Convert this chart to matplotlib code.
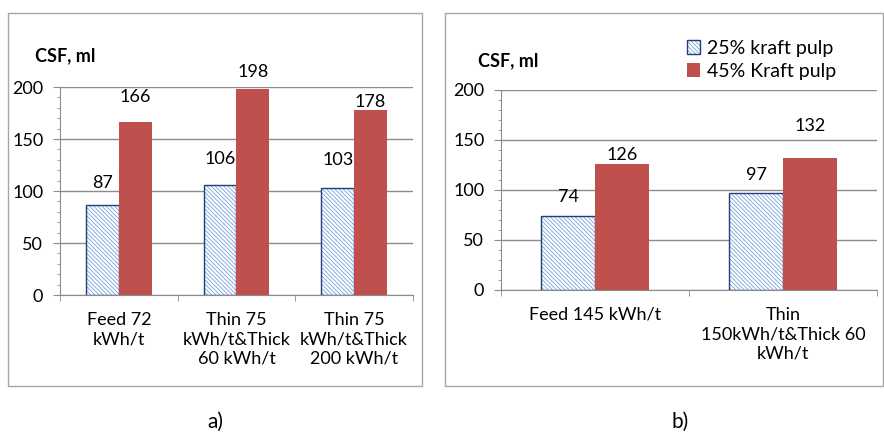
import matplotlib.pyplot as plt
import numpy as np
from matplotlib.patches import Rectangle

# データ
cats_a = ["Feed 72\nkWh/t", "Thin 75\nkWh/t&Thick\n60 kWh/t", "Thin 75\nkWh/t&Thick\n200 kWh/t"]
csf25_a = [87, 106, 103]
csf45_a = [166, 198, 178]
cats_b = ["Feed 145 kWh/t", "Thin\n150kWh/t&Thick 60\nkWh/t"]
csf25_b = [74, 97]
csf45_b = [126, 132]
series = ["25% kraft pulp", "45% Kraft pulp"]

# ラベルの位置（棒の上からのピクセル）
off25_a = [22, 26, 28]
off45_a = [25, 17, 8]
off25_b = [19, 18]
off45_b = [9, 32]

plt.rcParams["font.family"] = ["Lato", "DejaVu Sans"]
plt.rcParams["hatch.linewidth"] = 0.7

W, H = 884, 432
fig = plt.figure(figsize=(W / 100, H / 100), dpi=100)

red = "#c0504d"
navy = "#1f3f7a"
light = "#85ade0"
grey = "#8c8c8c"


def px(x0, y0, x1, y1):
    return [x0 / W, 1 - y1 / H, (x1 - x0) / W, (y1 - y0) / H]


def panel(rect, cats, v25, v45, o25, o45, width):
    ax = fig.add_axes(rect)
    x = np.arange(len(cats))
    h1 = ax.bar(x - width / 2, v25, width, color="white", edgecolor=light,
                hatch="\\" * 8, linewidth=0)
    h2 = ax.bar(x - width / 2, v25, width, fill=False, edgecolor=navy, linewidth=1)
    h3 = ax.bar(x + width / 2, v45, width, color=red, linewidth=0)
    for xi, v, o in zip(x - width / 2, v25, o25):
        ax.annotate(str(v), (xi, v), xytext=(0, o), textcoords="offset pixels",
                    ha="center", va="center", fontsize=13)
    for xi, v, o in zip(x + width / 2, v45, o45):
        ax.annotate(str(v), (xi, v), xytext=(0, o), textcoords="offset pixels",
                    ha="center", va="center", fontsize=13)
    ax.set_ylim(0, 200)
    ax.set_xlim(-0.5, len(cats) - 0.5)
    ax.set_yticks([0, 50, 100, 150, 200])
    ax.set_yticks(np.arange(0, 201, 10), minor=True)
    ax.set_xticks(x)
    ax.set_xticklabels(cats, fontsize=13, linespacing=1.28)
    ax.set_xticks(np.arange(-0.5, len(cats), 1), minor=True)
    ax.tick_params(axis="x", which="major", length=0, pad=12)
    ax.tick_params(axis="x", which="minor", length=4, color=grey, direction="out")
    ax.tick_params(axis="y", which="major", length=5, color=grey, labelsize=13, pad=7)
    ax.tick_params(axis="y", which="minor", length=2.5, color=grey)
    ax.grid(axis="y", color=grey, linewidth=1)
    ax.set_axisbelow(True)
    for s in ["top", "right"]:
        ax.spines[s].set_visible(False)
    for s in ["left", "bottom"]:
        ax.spines[s].set_color(grey)
    return ax, (h1, h2), h3


ax1, b1, r1 = panel(px(60, 87, 413, 295), cats_a, csf25_a, csf45_a, off25_a, off45_a, 0.28)
ax2, b2, r2 = panel(px(501, 90, 877, 290), cats_b, csf25_b, csf45_b, off25_b, off45_b, 0.285)

fig.text(35 / W, 1 - 56 / H, "CSF, ml", fontsize=13, fontweight="bold", va="center")
fig.text(478 / W, 1 - 61 / H, "CSF, ml", fontsize=13, fontweight="bold", va="center")

fig.legend([b2, r2], series, loc="center left", bbox_to_anchor=(677 / W, 1 - 60 / H),
           frameon=False, fontsize=14, handlelength=0.7, handleheight=0.7,
           handletextpad=0.35, labelspacing=0.3, borderpad=0)

# 枠線
fig.patches.append(Rectangle((8 / W, 1 - 386 / H), 414 / W, 373 / H, transform=fig.transFigure,
                             fill=False, edgecolor="#a6a6a6", linewidth=1))
fig.patches.append(Rectangle((445 / W, 1 - 386 / H), 438 / W, 373 / H, transform=fig.transFigure,
                             fill=False, edgecolor="#a6a6a6", linewidth=1))

fig.text(215 / W, 1 - 422 / H, "a)", fontsize=15, ha="center", va="center")
fig.text(680 / W, 1 - 422 / H, "b)", fontsize=15, ha="center", va="center")

plt.savefig("out.png", dpi=100)
